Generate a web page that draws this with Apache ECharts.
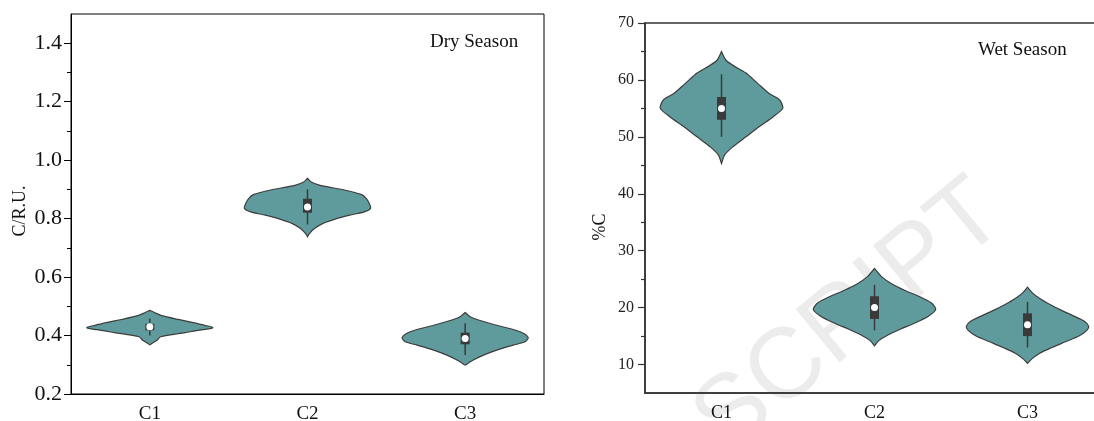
<!DOCTYPE html>
<html>
<head>
<meta charset="utf-8">
<script src="https://cdn.jsdelivr.net/npm/echarts@6/dist/echarts.min.js"></script>
<style>
  html, body { margin: 0; padding: 0; background: #fff; }
  #chart { width: 1094px; height: 421px; }
</style>
</head>
<body>
<div id="chart"></div>
<script>
const categories = ['C1', 'C2', 'C3'];

// violin outlines: [value, relative half width], bottom tip to top tip
const dryProfiles = [
  [[0.368, 0], [0.375, 0.05], [0.385, 0.12], [0.396, 0.17], [0.41, 0.56], [0.42, 0.84], [0.427, 1.0],
   [0.435, 0.87], [0.445, 0.67], [0.455, 0.45], [0.468, 0.19], [0.478, 0.08], [0.486, 0]],
  [[0.738, 0], [0.749, 0.03], [0.766, 0.11], [0.783, 0.24], [0.80, 0.46], [0.812, 0.67], [0.823, 0.9],
   [0.835, 1.0], [0.852, 0.98], [0.869, 0.93], [0.882, 0.86], [0.897, 0.6], [0.914, 0.2], [0.925, 0.06], [0.938, 0]],
  [[0.299, 0], [0.316, 0.13], [0.333, 0.29], [0.35, 0.5], [0.367, 0.76], [0.379, 0.95], [0.392, 1.0],
   [0.407, 0.93], [0.419, 0.79], [0.436, 0.48], [0.453, 0.21], [0.464, 0.08], [0.479, 0]]
];
// [whisker low, q1, median, q3, whisker high]
const dryStats = [
  [0.40, 0.418, 0.43, 0.44, 0.458],
  [0.78, 0.82, 0.84, 0.868, 0.90],
  [0.333, 0.37, 0.39, 0.41, 0.442]
];

const wetProfiles = [
  [[45.3, 0], [46.8, 0.05], [48.2, 0.18], [50.0, 0.4], [51.8, 0.62], [53.5, 0.84], [55.0, 1.0],
   [56.5, 0.95], [57.6, 0.78], [59.4, 0.59], [61.2, 0.4], [62.6, 0.18], [63.5, 0.07], [65.0, 0]],
  [[13.3, 0], [14.2, 0.07], [15.2, 0.22], [16.2, 0.42], [17.3, 0.66], [18.5, 0.88], [19.7, 1.0],
   [20.8, 0.93], [21.9, 0.74], [23.0, 0.5], [24.2, 0.28], [25.4, 0.12], [26.9, 0]],
  [[10.2, 0], [11.0, 0.07], [12.0, 0.2], [13.0, 0.4], [14.0, 0.62], [15.0, 0.84], [16.0, 0.97], [16.7, 1.0],
   [17.6, 0.93], [18.6, 0.74], [19.6, 0.54], [20.6, 0.36], [21.6, 0.2], [22.6, 0.08], [23.6, 0]]
];
const wetStats = [
  [50, 53, 55, 57, 61],
  [16, 18, 20, 22, 24],
  [13, 15, 17, 19, 21]
];

const dryTicks = [0.2, 0.4, 0.6, 0.8, 1.0, 1.2, 1.4];
const dryMinor = [0.3, 0.5, 0.7, 0.9, 1.1, 1.3];
const wetTicks = [10, 20, 30, 40, 50, 60, 70];
const wetMinor = [15, 25, 35, 45, 55, 65];

const font = 'Liberation Serif';
const fillColor = '#5f9b9c';
const edgeColor = '#3d3d3d';

function violinRenderer(profiles, stats) {
  return function (params, api) {
    const i = api.value(0);
    const cx = api.coord([i, stats[i][2]])[0];
    const half = api.size([1, 0])[0] * 0.4;
    const prof = profiles[i];
    const pts = [];
    prof.forEach(p => pts.push([cx + p[1] * half, api.coord([i, p[0]])[1]]));
    for (let k = prof.length - 1; k >= 0; k--) {
      pts.push([cx - prof[k][1] * half, api.coord([i, prof[k][0]])[1]]);
    }
    const s = stats[i];
    const yLo = api.coord([i, s[0]])[1];
    const yQ1 = api.coord([i, s[1]])[1];
    const yMed = api.coord([i, s[2]])[1];
    const yQ3 = api.coord([i, s[3]])[1];
    const yHi = api.coord([i, s[4]])[1];
    const bw = 9;
    return {
      type: 'group',
      children: [
        {
          type: 'polygon',
          shape: { points: pts, smooth: 0.25 },
          style: { fill: fillColor, stroke: edgeColor, lineWidth: 1.2 }
        },
        {
          type: 'line',
          shape: { x1: cx, y1: yLo, x2: cx, y2: yHi },
          style: { stroke: '#3a3a3a', lineWidth: 1.5 }
        },
        {
          type: 'rect',
          shape: { x: cx - bw / 2, y: yQ3, width: bw, height: yQ1 - yQ3 },
          style: { fill: '#3a3a3a' }
        },
        {
          type: 'circle',
          shape: { cx: cx, cy: yMed, r: 3.5 },
          style: { fill: '#ffffff' }
        }
      ]
    };
  };
}

const chart = echarts.init(document.getElementById('chart'));

const option = {
  backgroundColor: '#ffffff',
  animation: false,
  textStyle: { fontFamily: font },
  graphic: [
    {
      type: 'text',
      z: -10,
      x: 850,
      y: 318,
      rotation: 0.69,
      style: {
        text: 'SCRIPT',
        fontSize: 100,
        fontFamily: 'Liberation Sans',
        fill: '#ececec',
        align: 'center',
        verticalAlign: 'middle'
      }
    },
    {
      type: 'text',
      left: 430, top: 33,
      style: { text: 'Dry Season', fontSize: 19, fontFamily: font, fill: '#111' }
    },
    {
      type: 'text',
      left: 978, top: 41,
      style: { text: 'Wet Season', fontSize: 19, fontFamily: font, fill: '#111' }
    }
  ],
  grid: [
    { left: 71, top: 14, right: 550, bottom: 27, outerBoundsMode: 'none', show: true, borderColor: '#000', borderWidth: 1 },
    { left: 645, top: 23, right: -10, bottom: 28, outerBoundsMode: 'none', show: true, borderColor: '#333', borderWidth: 1.5 }
  ],
  xAxis: [
    {
      type: 'category', gridIndex: 0, data: categories,
      axisLine: { lineStyle: { color: '#000', width: 1 } },
      axisTick: { alignWithLabel: true, length: 6, lineStyle: { color: '#000' } },
      axisLabel: { color: '#111', fontSize: 19, fontFamily: font, margin: 11 }
    },
    {
      type: 'category', gridIndex: 1, data: categories,
      axisLine: { lineStyle: { color: '#333', width: 1.5 } },
      axisTick: { alignWithLabel: true, length: 6, lineStyle: { color: '#333', width: 1.5 } },
      axisLabel: { color: '#111', fontSize: 18, fontFamily: font, margin: 11 }
    }
  ],
  yAxis: [
    {
      type: 'value', gridIndex: 0, position: 'left', min: 0.2, max: 1.5,
      name: 'C/R.U.', nameLocation: 'middle', nameGap: 42,
      nameTextStyle: { fontSize: 18, fontFamily: font, color: '#111', padding: [0, 14, 0, 0] },
      splitLine: { show: false },
      axisLine: { show: true, lineStyle: { color: '#000', width: 1 } },
      axisTick: { show: true, length: 7, customValues: dryTicks, lineStyle: { color: '#000' } },
      axisLabel: {
        customValues: dryTicks, color: '#111', fontSize: 22, fontFamily: font, margin: 9,
        formatter: v => Number(v).toFixed(1)
      }
    },
    {
      type: 'value', gridIndex: 0, position: 'left', offset: 0, min: 0.2, max: 1.5,
      splitLine: { show: false },
      axisLine: { show: false },
      axisTick: { show: true, length: 4, customValues: dryMinor, lineStyle: { color: '#000' } },
      axisLabel: { show: false }
    },
    {
      type: 'value', gridIndex: 1, position: 'left', min: 5, max: 70,
      name: '%C', nameLocation: 'middle', nameGap: 36,
      nameTextStyle: { fontSize: 18, fontFamily: font, color: '#111', padding: [0, 38, 0, 0] },
      splitLine: { show: false },
      axisLine: { show: true, lineStyle: { color: '#333', width: 1.5 } },
      axisTick: { show: true, length: 7, customValues: wetTicks, lineStyle: { color: '#333', width: 1.2 } },
      axisLabel: { customValues: wetTicks, color: '#222', fontSize: 16, fontFamily: font, margin: 11 }
    },
    {
      type: 'value', gridIndex: 1, position: 'left', offset: 0, min: 5, max: 70,
      splitLine: { show: false },
      axisLine: { show: false },
      axisTick: { show: true, length: 4, customValues: wetMinor, lineStyle: { color: '#333', width: 1.2 } },
      axisLabel: { show: false }
    }
  ],
  series: [
    {
      type: 'custom', xAxisIndex: 0, yAxisIndex: 0, z: 5,
      data: categories.map((c, i) => [i, dryStats[i][2]]),
      renderItem: violinRenderer(dryProfiles, dryStats)
    },
    {
      type: 'custom', xAxisIndex: 1, yAxisIndex: 2, z: 5,
      data: categories.map((c, i) => [i, wetStats[i][2]]),
      renderItem: violinRenderer(wetProfiles, wetStats)
    }
  ]
};

chart.setOption(option);
</script>
</body>
</html>
